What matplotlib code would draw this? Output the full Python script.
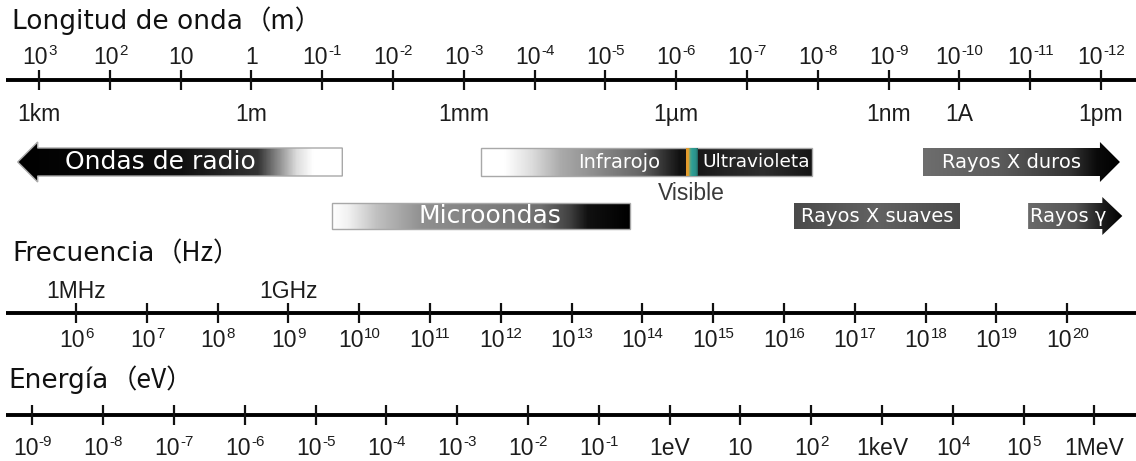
import numpy as np
import matplotlib
matplotlib.use("Agg")
import matplotlib.pyplot as plt
from matplotlib.colors import LinearSegmentedColormap
from matplotlib.patches import Polygon
from matplotlib.font_manager import FontProperties
from matplotlib.textpath import text_to_path
from matplotlib.transforms import offset_copy

# ---------------------------------------------------------------- data
# Wavelength scale (metres): decade exponents and named units
wl_exponents = list(range(3, -13, -1))
wl_unit_labels = ["1km", "1m", "1mm", "1\u00b5m", "1nm", "1A", "1pm"]
wl_unit_values = [1e3, 1.0, 1e-3, 1e-6, 1e-9, 1e-10, 1e-12]

# Frequency scale (Hz)
freq_exponents = list(range(6, 21))
freq_unit_labels = ["1MHz", "1GHz"]
freq_unit_values = [1e6, 1e9]

# Energy scale (eV): exponent, or a named unit where one is used
energy_exponents = list(range(-9, 7))
energy_names = {0: "1eV", 1: "10", 3: "1keV", 6: "1MeV"}

# Spectral bands: wavelength limits in metres (long -> short)
band_names = ["Ondas de radio", "Microondas", "Infrarojo", "Rayos X duros",
              "Rayos X suaves", "Rayos \u03b3"]
band_lam_long = [2.0e3, 7.2e-2, 5.7e-4, 3.3e-10, 2.2e-8, 1.07e-11]
band_lam_short = [5.2e-2, 4.5e-6, 1.2e-8, 5.4e-13, 9.8e-11, 5.0e-13]
uv_label = "Ultravioleta"
visible_lam = [7.3e-7, 5.1e-7]

# Scale titles and their units
scale_titles = ["Longitud de onda", "Frecuencia", "Energ\u00eda"]
scale_units = ["m", "Hz", "eV"]

C_LIGHT = 2.99792458e8      # m/s
HC_EV = 1.23984e-6          # eV*m

# ---------------------------------------------------------------- layout
W, H = 1136, 461
PX_PER_DECADE = 70.8
U_LEFT = -3 - 39 / PX_PER_DECADE
U_RIGHT = U_LEFT + W / PX_PER_DECADE

TITLE_FONT = "DejaVu Sans"
PAREN_FONT = ["Noto Sans CJK JP", "DejaVu Sans"]
TICK_FONT = "Liberation Sans"
BAND_FONT = "DejaVu Sans"
TICK_SIZE = 16.5
TITLE_SIZE = 19
INK = "#1c1c1c"

fig = plt.figure(figsize=(W / 100, H / 100), dpi=100)
ax = fig.add_axes([0, 0, 1, 1])
ax.set_xlim(U_LEFT, U_RIGHT)
ax.set_ylim(H, 0)
ax.axis("off")


def u_of_lambda(lam):
    return -np.log10(lam)


def u_of_freq(f):
    return np.log10(f) - np.log10(C_LIGHT)


def u_of_energy(e):
    return np.log10(e) - np.log10(HC_EV)


def text_width_pt(s, size, family=TICK_FONT):
    w, _, _ = text_to_path.get_text_width_height_descent(
        s, FontProperties(family=family, size=size), ismath=False)
    return w


def power_label(u, y, exp, size=TICK_SIZE):
    """Draw 10^exp centred on u, with the exponent as a raised small text."""
    if exp == 0:
        ax.text(u, y, "1", ha="center", va="baseline", family=TICK_FONT,
                fontsize=size, color=INK)
        return
    if exp == 1:
        ax.text(u, y, "10", ha="center", va="baseline", family=TICK_FONT,
                fontsize=size, color=INK)
        return
    es = str(exp)
    small = size * 0.66
    wb = text_width_pt("10", size)
    we = text_width_pt(es, small)
    x0 = -(wb + we) / 2
    ax.text(u, y, "10", ha="left", va="baseline", family=TICK_FONT,
            fontsize=size, color=INK,
            transform=offset_copy(ax.transData, fig, x=x0, y=0, units="points"))
    ax.text(u, y, es, ha="left", va="baseline", family=TICK_FONT,
            fontsize=small, color=INK,
            transform=offset_copy(ax.transData, fig, x=x0 + wb + 0.3,
                                  y=size * 0.40, units="points"))


def plain_label(u, y, s, size=TICK_SIZE):
    ax.text(u, y, s, ha="center", va="baseline", family=TICK_FONT,
            fontsize=size, color=INK)


def scale_line(y, ticks):
    ax.plot([U_LEFT + 6 / PX_PER_DECADE, U_RIGHT], [y, y], color="black",
            lw=2.8, solid_capstyle="butt", zorder=3)
    ax.vlines(ticks, y - 10, y + 10, color="#111111", lw=1.6, zorder=3)


# ---------------------------------------------------------------- titles
def title(y, name, unit, x_px=12, gap_pt=1.5):
    u = U_LEFT + x_px / PX_PER_DECADE
    ax.text(u, y, name, family=TITLE_FONT, fontsize=TITLE_SIZE,
            color="#111111", va="baseline")
    w = text_width_pt(name, TITLE_SIZE, TITLE_FONT)
    ax.text(u, y, "\uff08" + unit + "\uff09", family=PAREN_FONT,
            fontsize=TITLE_SIZE, color="#111111", va="baseline",
            transform=offset_copy(ax.transData, fig, x=w + gap_pt, y=0,
                                  units="points"))


title(29, scale_titles[0], scale_units[0])
title(261, scale_titles[1], scale_units[1])
title(388, scale_titles[2], scale_units[2], x_px=8)

# ---------------------------------------------------------------- wavelength
Y_WL = 80
wl_u = [u_of_lambda(10.0 ** e) for e in wl_exponents]
scale_line(Y_WL, wl_u)
for e, u in zip(wl_exponents, wl_u):
    power_label(u, 64, e)
for lab, lam in zip(wl_unit_labels, wl_unit_values):
    plain_label(u_of_lambda(lam), 121, lab)

# ---------------------------------------------------------------- frequency
Y_FR = 313
fr_u = [u_of_freq(10.0 ** e) for e in freq_exponents]
scale_line(Y_FR, fr_u)
for e, u in zip(freq_exponents, fr_u):
    power_label(u, 347, e)
for lab, f in zip(freq_unit_labels, freq_unit_values):
    plain_label(u_of_freq(f), 298, lab)

# ---------------------------------------------------------------- energy
Y_EN = 415
en_u = [u_of_energy(10.0 ** e) for e in energy_exponents]
scale_line(Y_EN, en_u)
for e, u in zip(energy_exponents, en_u):
    if e in energy_names:
        plain_label(u, 455, energy_names[e])
    else:
        power_label(u, 455, e)


# ---------------------------------------------------------------- bands
def band(lam_long, lam_short, y_top, y_bot, stops, head=None,
         head_len=20 / PX_PER_DECADE, head_out=6, edge=None):
    u0, u1 = u_of_lambda(lam_long), u_of_lambda(lam_short)
    yc = (y_top + y_bot) / 2
    if head == "left":
        ub = u0 + head_len
        pts = [(u0, yc), (ub, y_top - head_out), (ub, y_top), (u1, y_top),
               (u1, y_bot), (ub, y_bot), (ub, y_bot + head_out)]
    elif head == "right":
        ub = u1 - head_len
        pts = [(u0, y_top), (ub, y_top), (ub, y_top - head_out), (u1, yc),
               (ub, y_bot + head_out), (ub, y_bot), (u0, y_bot)]
    else:
        pts = [(u0, y_top), (u1, y_top), (u1, y_bot), (u0, y_bot)]
    cmap = LinearSegmentedColormap.from_list("band", stops)
    grad = np.linspace(0, 1, 600)[None, :]
    ext = head_out if head else 0
    im = ax.imshow(grad, cmap=cmap, aspect="auto", interpolation="bilinear",
                   extent=(u0, u1, y_bot + ext, y_top - ext), zorder=2)
    poly = Polygon(pts, closed=True, facecolor="none",
                   edgecolor=edge if edge else "none", lw=1.0, zorder=3)
    ax.add_patch(poly)
    im.set_clip_path(poly)
    return u0, u1


def band_text(u0, u1, frac, y, s, size):
    ax.text(u0 + frac * (u1 - u0), y, s, ha="center", va="center",
            family=BAND_FONT, fontsize=size, color="white", zorder=5)


ROW1 = (148, 176)
ROW2 = (203, 229)

# radio
u0, u1 = band(band_lam_long[0], band_lam_short[0], *ROW1,
              [(0, "#000000"), (0.5, "#101010"), (0.74, "#333333"),
               (0.80, "#888888"), (0.86, "#dddddd"), (0.91, "#ffffff"),
               (1, "#ffffff")], head="left", edge="#a8a8a8")
band_text(u0, u1, 0.44, 162, band_names[0], 18)

# microwaves
u0, u1 = band(band_lam_long[1], band_lam_short[1], *ROW2,
              [(0, "#ffffff"), (0.05, "#f2f2f2"), (0.15, "#c0c0c0"),
               (0.30, "#909090"), (0.70, "#707070"), (0.80, "#404040"),
               (0.86, "#111111"), (1, "#000000")], edge="#a8a8a8")
band_text(u0, u1, 0.53, 216, band_names[1], 18)

# infrared / visible / ultraviolet box
u0, u1 = band(band_lam_long[2], band_lam_short[2], *ROW1,
              [(0, "#ffffff"), (0.07, "#ffffff"), (0.15, "#dddddd"),
               (0.24, "#aaaaaa"), (0.36, "#888888"), (0.48, "#666666"),
               (0.55, "#333333"), (0.60, "#111111"), (0.75, "#252525"),
               (0.85, "#2e2e2e"), (1, "#151515")], edge="#a8a8a8")
band_text(u0, u1, 0.417, 162, band_names[2], 14)
band_text(u0, u1, 0.832, 162, uv_label, 13.3)

# visible strip
v0, v1 = u_of_lambda(visible_lam[0]), u_of_lambda(visible_lam[1])
vis_cmap = LinearSegmentedColormap.from_list(
    "vis", [(0, "#e8982a"), (0.22, "#e0a030"), (0.34, "#5aa585"),
            (0.5, "#2fa095"), (0.85, "#2b8f88"), (1, "#1f5f5a")])
ax.imshow(np.linspace(0, 1, 200)[None, :], cmap=vis_cmap, aspect="auto",
          interpolation="bilinear", extent=(v0, v1, ROW1[1], ROW1[0]),
          zorder=4)
ax.text((v0 + v1) / 2, 193, "Visible", ha="center", va="center",
        family=TICK_FONT, fontsize=16.5, color="#3a3a3a")

# hard X-rays
u0, u1 = band(band_lam_long[3], band_lam_short[3], *ROW1,
              [(0, "#6e6e6e"), (0.4, "#5a5a5a"), (0.75, "#333333"),
               (0.88, "#0a0a0a"), (1, "#000000")], head="right")
band_text(u0, u1, 0.452, 162, band_names[3], 14)

# soft X-rays
u0, u1 = band(band_lam_long[4], band_lam_short[4], *ROW2,
              [(0, "#4a4a4a"), (0.5, "#626262"), (1, "#4a4a4a")])
band_text(u0, u1, 0.50, 216, band_names[4], 14)

# gamma rays
u0, u1 = band(band_lam_long[5], band_lam_short[5], *ROW2,
              [(0, "#6a6a6a"), (0.5, "#555555"), (0.8, "#1a1a1a"),
               (1, "#000000")], head="right")
band_text(u0, u1, 0.43, 216, band_names[5], 14)

fig.savefig("out.png", dpi=100)
